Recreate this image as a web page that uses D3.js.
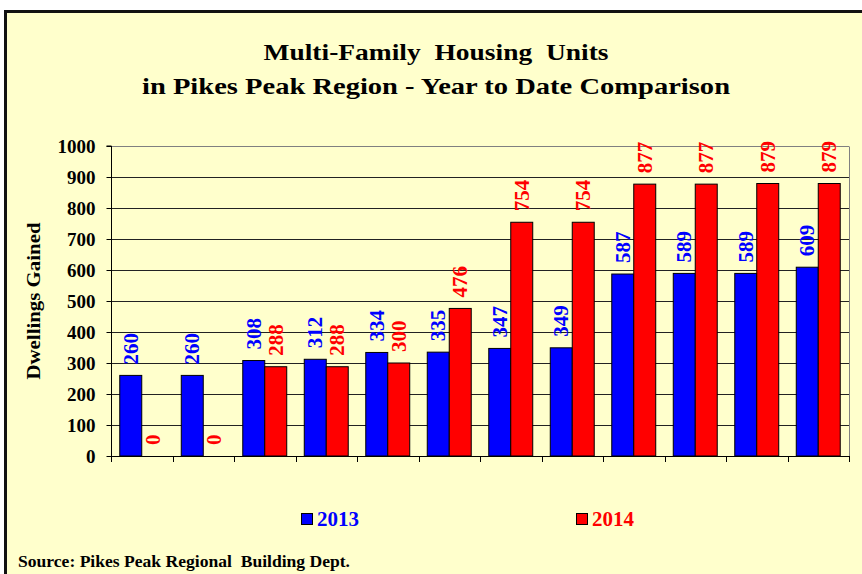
<!DOCTYPE html>
<html>
<head>
<meta charset="utf-8">
<script src="https://cdn.jsdelivr.net/npm/d3@7"></script>
<style>
  html, body { margin: 0; padding: 0; background: #ffffff; }
  svg { display: block; }
  text { font-family: "Liberation Serif", "Times New Roman", serif; font-weight: bold; }
</style>
</head>
<body>
<svg id="chart" width="862" height="574"></svg>
<script>
// ---- data ----
const categories = ["Jan", "Feb", "Mar", "Apr", "May", "Jun", "Jul", "Aug", "Sep", "Oct", "Nov", "Dec"];
const values2013 = [260, 260, 308, 312, 334, 335, 347, 349, 587, 589, 589, 609];
const values2014 = [0, 0, 288, 288, 300, 476, 754, 754, 877, 877, 879, 879];
const seriesNames = ["2013", "2014"];
const yTicks = [0, 100, 200, 300, 400, 500, 600, 700, 800, 900, 1000];
const titleLines = ["Multi-Family  Housing  Units", "in Pikes Peak Region - Year to Date Comparison"];
const yAxisTitle = "Dwellings Gained";
const sourceText = "Source: Pikes Peak Regional  Building Dept.";

const colors = { "2013": "#0000ff", "2014": "#ff0000" };
const bg = "#ffffcc";

const svg = d3.select("#chart");

// frame
svg.append("rect").attr("x", 5.5).attr("y", 11.5).attr("width", 870).attr("height", 580)
  .attr("fill", bg).attr("stroke", "#111").attr("stroke-width", 3);

// title
const titleWidths = [345, 588];
const titleBaselines = [59.5, 94];
titleLines.forEach((t, i) => {
  svg.append("text")
    .attr("x", 436).attr("y", titleBaselines[i])
    .attr("text-anchor", "middle")
    .attr("font-size", 24)
    .attr("textLength", titleWidths[i])
    .attr("lengthAdjust", "spacingAndGlyphs")
    .style("white-space", "pre")
    .attr("fill", "#000")
    .text(t);
});

// scales
const plot = { left: 111, right: 849, top: 146, bottom: 456 };
const x0 = d3.scaleBand().domain(categories).range([plot.left, plot.right])
  .paddingInner(0.285).paddingOuter(0.1425);
const x1 = d3.scaleBand().domain(seriesNames).range([0, x0.bandwidth()]).padding(0);
const y = d3.scaleLinear().domain([0, 1000]).range([plot.bottom, plot.top]);

// gridlines
svg.append("g").selectAll("line").data(yTicks.filter(v => v > 0))
  .join("line")
  .attr("x1", plot.left).attr("x2", plot.right)
  .attr("y1", d => Math.round(y(d)) + 0.5).attr("y2", d => Math.round(y(d)) + 0.5)
  .attr("stroke", d => d === 1000 ? "#808080" : "#222")
  .attr("stroke-width", 1);
// right border of plot area
svg.append("line")
  .attr("x1", plot.right + 0.5).attr("x2", plot.right + 0.5)
  .attr("y1", Math.round(y(1000)) + 0.5).attr("y2", plot.bottom)
  .attr("stroke", "#808080");

// bars
const rows = categories.map((c, i) => ({ cat: c, vals: [
  { key: "2013", value: values2013[i] },
  { key: "2014", value: values2014[i] }
]}));

const groups = svg.append("g").selectAll("g").data(rows).join("g")
  .attr("transform", d => `translate(${x0(d.cat)},0)`);

groups.selectAll("rect").data(d => d.vals).join("rect")
  .attr("x", d => x1(d.key))
  .attr("y", d => y(d.value))
  .attr("width", x1.bandwidth())
  .attr("height", d => y(0) - y(d.value))
  .attr("fill", d => colors[d.key])
  .attr("stroke", "#000")
  .attr("stroke-width", 1);

// value labels
groups.selectAll("text.val").data(d => d.vals).join("text")
  .attr("class", "val")
  .attr("transform", d => `translate(${x1(d.key) + x1.bandwidth() / 2},${y(d.value) - 11}) rotate(-90)`)
  .attr("dy", "0.34em")
  .attr("text-anchor", "start")
  .attr("font-size", 21)
  .attr("fill", d => colors[d.key])
  .text(d => d.value);

// y axis
const yAxis = d3.axisLeft(y).tickValues(yTicks).tickSize(5).tickPadding(11).tickFormat(d3.format("d"));
const gy = svg.append("g").attr("transform", `translate(${plot.left + 0.5},0)`).call(yAxis);
gy.select(".domain").attr("stroke", "#000").attr("d", `M-5,${plot.top}H0V${plot.bottom}`);
gy.selectAll(".tick line").attr("stroke", "#000");
gy.selectAll(".tick text")
  .attr("font-size", 19)
  .attr("font-family", "'Liberation Serif', serif")
  .attr("font-weight", "bold")
  .attr("fill", "#000");

// x axis: baseline and ticks at category boundaries
const boundaries = categories.map(c => x0(c) - x0.step() * x0.paddingOuter()).concat([plot.right]);
svg.append("line")
  .attr("x1", plot.left).attr("x2", plot.right + 1)
  .attr("y1", plot.bottom + 0.5).attr("y2", plot.bottom + 0.5)
  .attr("stroke", "#000");
svg.append("g").selectAll("line").data(boundaries).join("line")
  .attr("x1", d => Math.round(d) + 0.5).attr("x2", d => Math.round(d) + 0.5)
  .attr("y1", plot.bottom).attr("y2", plot.bottom + 6)
  .attr("stroke", "#000");

// y axis title
svg.append("text")
  .attr("transform", "translate(40,301) rotate(-90)")
  .attr("text-anchor", "middle")
  .attr("font-size", 18)
  .attr("textLength", 157)
  .attr("lengthAdjust", "spacingAndGlyphs")
  .attr("fill", "#000")
  .text(yAxisTitle);

// legend
const legendPos = [{ key: "2013", sx: 301, tx: 317 }, { key: "2014", sx: 576, tx: 592 }];
legendPos.forEach(l => {
  svg.append("rect").attr("x", l.sx + 0.5).attr("y", 513.5).attr("width", 11).attr("height", 11)
    .attr("fill", colors[l.key]).attr("stroke", "#000");
  svg.append("text").attr("x", l.tx).attr("y", 525.5)
    .attr("font-size", 20)
    .attr("textLength", 42)
    .attr("lengthAdjust", "spacingAndGlyphs")
    .attr("fill", colors[l.key])
    .text(l.key);
});

// source
svg.append("text")
  .attr("x", 18).attr("y", 567)
  .attr("font-size", 16)
  .attr("textLength", 332)
  .attr("lengthAdjust", "spacingAndGlyphs")
  .style("white-space", "pre")
  .attr("fill", "#000")
  .text(sourceText);
</script>
</body>
</html>
